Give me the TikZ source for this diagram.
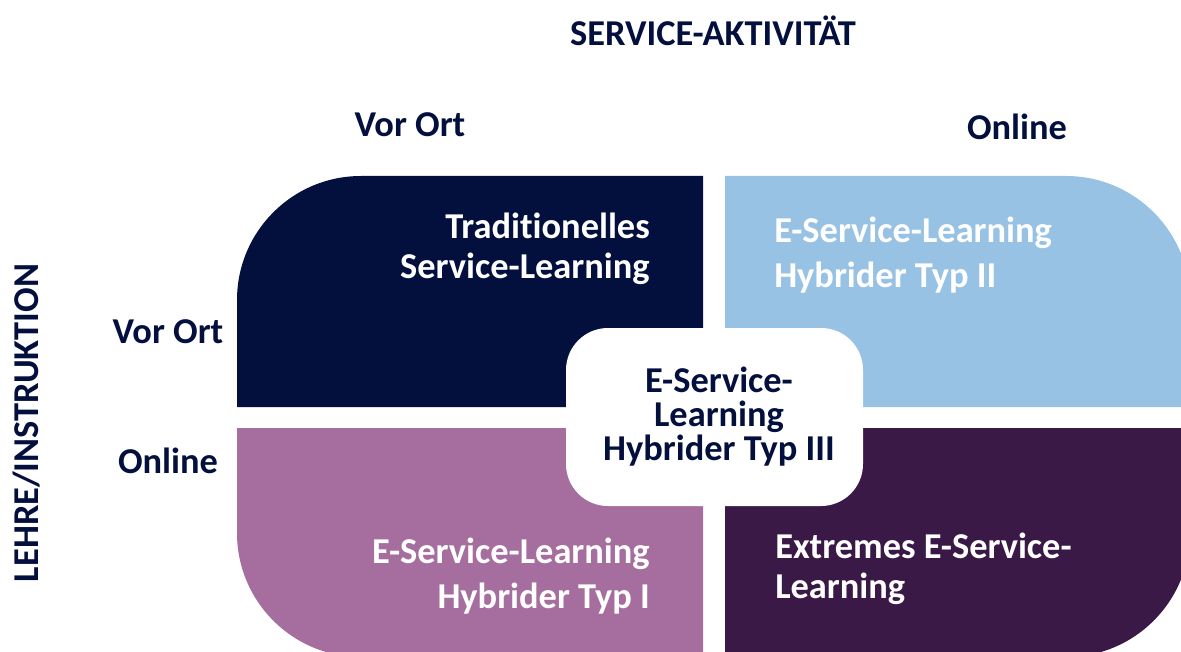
\documentclass[tikz,border=0pt]{standalone}
\usepackage{fontspec}
\setmainfont{Carlito}[Ligatures=CommonOff]
\definecolor{cNavy}{HTML}{03103E}
\definecolor{cSky}{HTML}{97C2E4}
\definecolor{cMauve}{HTML}{A56E9E}
\definecolor{cPlum}{HTML}{3A1947}
\begin{document}
\begin{tikzpicture}[x=0.75pt,y=-0.75pt,
  lab/.style={font=\bfseries\fontsize{27.3}{30}\selectfont, text=cNavy, inner sep=0pt},
  qtext/.style={font=\bfseries\fontsize{27.3}{#1}\selectfont, text=white, inner sep=0pt},
  qtext/.default=30]
\useasboundingbox (0,0) rectangle (1181,652);
\clip (0,0) rectangle (1181,652);
% quadrants
\fill[cNavy] (237,300) .. controls (237,231.5) and (292.5,176) .. (361,176) -- (703,176) -- (703,407) -- (237,407) -- cycle;
\fill[cSky] (725,176) -- (1066,176) .. controls (1134.5,176) and (1190,231.5) .. (1190,300) -- (1190,407) -- (725,407) -- cycle;
\fill[cMauve] (237,428) -- (703,428) -- (703,657) -- (361,657) .. controls (292.5,657) and (237,601.5) .. (237,533) -- cycle;
\fill[cPlum] (725,428) -- (1190,428) -- (1190,533) .. controls (1190,601.5) and (1134.5,657) .. (1066,657) -- (725,657) -- cycle;
% centre box
\fill[white, rounded corners=31.5pt] (566,328) rectangle (863,506);
% labels
\node[lab, anchor=base] (title) at (713,46) {SERVICE-AKTIVITÄT};
\node[lab, anchor=base] (colA) at (410,137) {Vor Ort};
\node[lab, anchor=base] (colB) at (1017,140) {Online};
\node[lab, anchor=base] (rowA) at (168,343) {Vor Ort};
\node[lab, anchor=base] (rowB) at (168,473) {Online};
\node[lab, anchor=base, rotate=90] (axis) at (38,423) {LEHRE/INSTRUKTION};
% quadrant texts (base anchor = last line)
\node[qtext=30, anchor=base east, align=right] (tl) at (650,278) {Traditionelles\\Service-Learning};
\node[qtext=33.75, anchor=base west, align=left] (tr) at (774,287) {E-Service-Learning\\Hybrider Typ II};
\node[qtext=33.75, anchor=base east, align=right] (bl) at (650,608) {E-Service-Learning\\Hybrider Typ I};
\node[qtext=30, anchor=base west, align=left] (br) at (775,598) {Extremes E-Service-\\Learning};
\node[lab, font=\bfseries\fontsize{27.3}{25.5}\selectfont, anchor=base, align=center] (mid) at (719,460) {E-Service-\\Learning\\Hybrider Typ III};
\end{tikzpicture}
\end{document}
